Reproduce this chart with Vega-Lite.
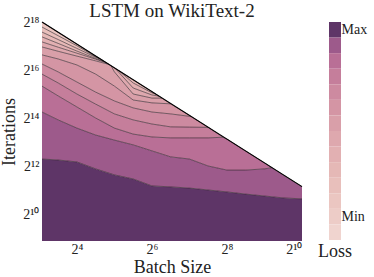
{
  "$schema": "https://vega.github.io/schema/vega-lite/v6.json",
  "background": "white",
  "padding": {"left": 0, "top": 2, "right": 2, "bottom": 0},
  "autosize": {"type": "pad"},
  "config": {
    "view": {"stroke": null},
    "font": "Liberation Serif",
    "axis": {"grid": false, "domain": false, "ticks": false, "labelFont": "Liberation Serif", "titleFont": "Liberation Serif", "labelColor": "#222", "titleColor": "#222", "titleFontWeight": "normal"}
  },
  "datasets": {
    "bands": [
      {"band": 1, "level": 1, "lx": 3.07, "lo": 8.875, "hi": 12.29},
      {"band": 1, "level": 1, "lx": 3.5, "lo": 8.875, "hi": 12.25},
      {"band": 1, "level": 1, "lx": 4, "lo": 8.875, "hi": 12.17},
      {"band": 1, "level": 1, "lx": 4.5, "lo": 8.875, "hi": 11.88},
      {"band": 1, "level": 1, "lx": 5, "lo": 8.875, "hi": 11.63},
      {"band": 1, "level": 1, "lx": 5.5, "lo": 8.875, "hi": 11.46},
      {"band": 1, "level": 1, "lx": 6, "lo": 8.875, "hi": 11.17},
      {"band": 1, "level": 1, "lx": 6.5, "lo": 8.875, "hi": 11.13},
      {"band": 1, "level": 1, "lx": 7, "lo": 8.875, "hi": 11.08},
      {"band": 1, "level": 1, "lx": 7.5, "lo": 8.875, "hi": 11.0},
      {"band": 1, "level": 1, "lx": 8, "lo": 8.875, "hi": 10.92},
      {"band": 1, "level": 1, "lx": 8.5, "lo": 8.875, "hi": 10.83},
      {"band": 1, "level": 1, "lx": 9, "lo": 8.875, "hi": 10.75},
      {"band": 1, "level": 1, "lx": 9.5, "lo": 8.875, "hi": 10.67},
      {"band": 1, "level": 1, "lx": 10, "lo": 8.875, "hi": 10.63},

      {"band": 2, "level": 2, "lx": 3.07, "lo": 12.29, "hi": 14.25},
      {"band": 2, "level": 2, "lx": 3.5, "lo": 12.25, "hi": 13.92},
      {"band": 2, "level": 2, "lx": 4, "lo": 12.17, "hi": 13.58},
      {"band": 2, "level": 2, "lx": 4.5, "lo": 11.88, "hi": 13.29},
      {"band": 2, "level": 2, "lx": 5, "lo": 11.63, "hi": 13.08},
      {"band": 2, "level": 2, "lx": 5.5, "lo": 11.46, "hi": 12.88},
      {"band": 2, "level": 2, "lx": 6, "lo": 11.17, "hi": 12.63},
      {"band": 2, "level": 2, "lx": 6.5, "lo": 11.13, "hi": 12.38},
      {"band": 2, "level": 2, "lx": 7, "lo": 11.08, "hi": 12.29},
      {"band": 2, "level": 2, "lx": 7.5, "lo": 11.0, "hi": 12.0},
      {"band": 2, "level": 2, "lx": 8, "lo": 10.92, "hi": 11.83},
      {"band": 2, "level": 2, "lx": 8.5, "lo": 10.83, "hi": 11.83},
      {"band": 2, "level": 2, "lx": 9, "lo": 10.75, "hi": 11.88},
      {"band": 2, "level": 2, "lx": 9.2, "lo": 10.72, "hi": 11.93},
      {"band": 2, "level": 2, "lx": 9.5, "lo": 10.67, "hi": 11.63},
      {"band": 2, "level": 2, "lx": 10, "lo": 10.63, "hi": 11.14},

      {"band": 3, "level": 3, "lx": 3.07, "lo": 14.25, "hi": 15.33},
      {"band": 3, "level": 3, "lx": 3.5, "lo": 13.92, "hi": 14.92},
      {"band": 3, "level": 3, "lx": 4, "lo": 13.58, "hi": 14.46},
      {"band": 3, "level": 3, "lx": 4.5, "lo": 13.29, "hi": 14.0},
      {"band": 3, "level": 3, "lx": 5, "lo": 13.08, "hi": 13.58},
      {"band": 3, "level": 3, "lx": 5.5, "lo": 12.88, "hi": 13.33},
      {"band": 3, "level": 3, "lx": 6, "lo": 12.63, "hi": 13.21},
      {"band": 3, "level": 3, "lx": 6.5, "lo": 12.38, "hi": 13.17},
      {"band": 3, "level": 3, "lx": 7, "lo": 12.29, "hi": 13.17},
      {"band": 3, "level": 3, "lx": 7.5, "lo": 12.0, "hi": 13.17},
      {"band": 3, "level": 3, "lx": 7.9, "lo": 11.86, "hi": 13.2},
      {"band": 3, "level": 3, "lx": 8, "lo": 11.83, "hi": 13.12},
      {"band": 3, "level": 3, "lx": 8.5, "lo": 11.83, "hi": 12.62},
      {"band": 3, "level": 3, "lx": 9, "lo": 11.88, "hi": 12.13},
      {"band": 3, "level": 3, "lx": 9.2, "lo": 11.93, "hi": 11.93},

      {"band": 4, "level": 4, "lx": 3.07, "lo": 15.33, "hi": 15.83},
      {"band": 4, "level": 4, "lx": 3.5, "lo": 14.92, "hi": 15.46},
      {"band": 4, "level": 4, "lx": 4, "lo": 14.46, "hi": 15.0},
      {"band": 4, "level": 4, "lx": 4.5, "lo": 14.0, "hi": 14.58},
      {"band": 4, "level": 4, "lx": 5, "lo": 13.58, "hi": 14.17},
      {"band": 4, "level": 4, "lx": 5.5, "lo": 13.33, "hi": 13.92},
      {"band": 4, "level": 4, "lx": 6, "lo": 13.21, "hi": 13.75},
      {"band": 4, "level": 4, "lx": 6.5, "lo": 13.17, "hi": 13.63},
      {"band": 4, "level": 4, "lx": 7, "lo": 13.17, "hi": 13.62},
      {"band": 4, "level": 4, "lx": 7.5, "lo": 13.17, "hi": 13.61},
      {"band": 4, "level": 4, "lx": 7.9, "lo": 13.2, "hi": 13.2},

      {"band": 5, "level": 5, "lx": 3.07, "lo": 15.83, "hi": 16.25},
      {"band": 5, "level": 5, "lx": 3.5, "lo": 15.46, "hi": 15.92},
      {"band": 5, "level": 5, "lx": 4, "lo": 15.0, "hi": 15.5},
      {"band": 5, "level": 5, "lx": 4.5, "lo": 14.58, "hi": 15.08},
      {"band": 5, "level": 5, "lx": 5, "lo": 14.17, "hi": 14.71},
      {"band": 5, "level": 5, "lx": 5.5, "lo": 13.92, "hi": 14.42},
      {"band": 5, "level": 5, "lx": 6, "lo": 13.75, "hi": 14.25},
      {"band": 5, "level": 5, "lx": 6.5, "lo": 13.63, "hi": 14.17},
      {"band": 5, "level": 5, "lx": 7.05, "lo": 13.62, "hi": 14.06},
      {"band": 5, "level": 5, "lx": 7.5, "lo": 13.61, "hi": 13.61},

      {"band": 6, "level": 6, "lx": 3.07, "lo": 16.25, "hi": 16.63},
      {"band": 6, "level": 6, "lx": 3.5, "lo": 15.92, "hi": 16.46},
      {"band": 6, "level": 6, "lx": 4, "lo": 15.5, "hi": 16.21},
      {"band": 6, "level": 6, "lx": 4.5, "lo": 15.08, "hi": 15.83},
      {"band": 6, "level": 6, "lx": 5, "lo": 14.71, "hi": 15.33},
      {"band": 6, "level": 6, "lx": 5.5, "lo": 14.42, "hi": 14.75},
      {"band": 6, "level": 6, "lx": 6, "lo": 14.25, "hi": 14.63},
      {"band": 6, "level": 6, "lx": 6.5, "lo": 14.17, "hi": 14.59},
      {"band": 6, "level": 6, "lx": 7.05, "lo": 14.06, "hi": 14.06},

      {"band": 7, "level": 7, "lx": 3.07, "lo": 16.63, "hi": 16.96},
      {"band": 7, "level": 7, "lx": 3.5, "lo": 16.46, "hi": 16.78},
      {"band": 7, "level": 7, "lx": 4, "lo": 16.21, "hi": 16.58},
      {"band": 7, "level": 7, "lx": 4.5, "lo": 15.83, "hi": 16.38},
      {"band": 7, "level": 7, "lx": 4.86, "lo": 15.47, "hi": 16.23},
      {"band": 7, "level": 7, "lx": 4.91, "lo": 15.42, "hi": 16.18},
      {"band": 7, "level": 7, "lx": 5, "lo": 15.33, "hi": 15.92},
      {"band": 7, "level": 7, "lx": 5.5, "lo": 14.75, "hi": 15.0},
      {"band": 7, "level": 7, "lx": 6, "lo": 14.63, "hi": 14.83},
      {"band": 7, "level": 7, "lx": 6.27, "lo": 14.61, "hi": 14.83},
      {"band": 7, "level": 7, "lx": 6.5, "lo": 14.59, "hi": 14.59},

      {"band": 8, "level": 8, "lx": 3.07, "lo": 16.96, "hi": 17.17},
      {"band": 8, "level": 8, "lx": 3.5, "lo": 16.78, "hi": 16.95},
      {"band": 8, "level": 8, "lx": 4, "lo": 16.58, "hi": 16.7},
      {"band": 8, "level": 8, "lx": 4.5, "lo": 16.38, "hi": 16.45},
      {"band": 8, "level": 8, "lx": 4.8, "lo": 16.26, "hi": 16.29},
      {"band": 8, "level": 8, "lx": 4.86, "lo": 16.23, "hi": 16.23},

      {"band": 9, "level": 9, "lx": 3.07, "lo": 17.17, "hi": 17.38},
      {"band": 9, "level": 9, "lx": 3.5, "lo": 16.95, "hi": 17.11},
      {"band": 9, "level": 9, "lx": 4, "lo": 16.7, "hi": 16.79},
      {"band": 9, "level": 9, "lx": 4.5, "lo": 16.45, "hi": 16.48},
      {"band": 9, "level": 9, "lx": 4.75, "lo": 16.31, "hi": 16.34},
      {"band": 9, "level": 9, "lx": 4.8, "lo": 16.29, "hi": 16.29},

      {"band": 10, "level": 10, "lx": 3.07, "lo": 17.38, "hi": 17.58},
      {"band": 10, "level": 10, "lx": 3.5, "lo": 17.11, "hi": 17.27},
      {"band": 10, "level": 10, "lx": 4, "lo": 16.79, "hi": 16.9},
      {"band": 10, "level": 10, "lx": 4.5, "lo": 16.48, "hi": 16.53},
      {"band": 10, "level": 10, "lx": 4.67, "lo": 16.38, "hi": 16.42},
      {"band": 10, "level": 10, "lx": 4.75, "lo": 16.34, "hi": 16.34},

      {"band": 11, "level": 11, "lx": 3.07, "lo": 17.58, "hi": 17.79},
      {"band": 11, "level": 11, "lx": 3.5, "lo": 17.27, "hi": 17.43},
      {"band": 11, "level": 11, "lx": 4, "lo": 16.9, "hi": 17.01},
      {"band": 11, "level": 11, "lx": 4.5, "lo": 16.53, "hi": 16.55},
      {"band": 11, "level": 11, "lx": 4.59, "lo": 16.48, "hi": 16.5},
      {"band": 11, "level": 11, "lx": 4.67, "lo": 16.42, "hi": 16.42},

      {"band": 12, "level": 12, "lx": 3.07, "lo": 17.79, "hi": 18.0},
      {"band": 12, "level": 12, "lx": 3.5, "lo": 17.43, "hi": 17.57},
      {"band": 12, "level": 12, "lx": 4, "lo": 17.01, "hi": 17.08},
      {"band": 12, "level": 12, "lx": 4.5, "lo": 16.55, "hi": 16.58},
      {"band": 12, "level": 12, "lx": 4.59, "lo": 16.5, "hi": 16.5},

      {"band": 13, "level": 8, "lx": 4.91, "lo": 16.18, "hi": 16.18},
      {"band": 13, "level": 8, "lx": 5, "lo": 15.92, "hi": 16.09},
      {"band": 13, "level": 8, "lx": 5.02, "lo": 15.88, "hi": 16.07},
      {"band": 13, "level": 8, "lx": 5.5, "lo": 15.0, "hi": 15.25},
      {"band": 13, "level": 8, "lx": 6, "lo": 14.83, "hi": 14.96},
      {"band": 13, "level": 8, "lx": 6.19, "lo": 14.83, "hi": 14.91},
      {"band": 13, "level": 8, "lx": 6.27, "lo": 14.83, "hi": 14.83},

      {"band": 14, "level": 9, "lx": 5.02, "lo": 16.07, "hi": 16.07},
      {"band": 14, "level": 9, "lx": 5.12, "lo": 15.9, "hi": 15.97},
      {"band": 14, "level": 9, "lx": 5.5, "lo": 15.25, "hi": 15.46},
      {"band": 14, "level": 9, "lx": 6, "lo": 14.96, "hi": 15.05},
      {"band": 14, "level": 9, "lx": 6.11, "lo": 14.93, "hi": 14.99},
      {"band": 14, "level": 9, "lx": 6.19, "lo": 14.91, "hi": 14.91},

      {"band": 15, "level": 10, "lx": 5.12, "lo": 15.97, "hi": 15.97},
      {"band": 15, "level": 10, "lx": 5.5, "lo": 15.46, "hi": 15.59},
      {"band": 15, "level": 10, "lx": 6, "lo": 15.05, "hi": 15.1},
      {"band": 15, "level": 10, "lx": 6.11, "lo": 14.99, "hi": 14.99}
    ],
    "diag": [
      {"lx": 3.07, "ly": 18.0},
      {"lx": 10, "ly": 11.14}
    ],
    "cb": [
      {"level": 1}, {"level": 2}, {"level": 3}, {"level": 4}, {"level": 5}, {"level": 6}, {"level": 7},
      {"level": 8}, {"level": 9}, {"level": 10}, {"level": 11}, {"level": 12}, {"level": 13}, {"level": 14}
    ]
  },
  "spacing": 27,
  "bounds": "flush",
  "resolve": {"scale": {"x": "independent", "y": "independent", "color": "independent"}},
  "hconcat": [
    {
      "width": 260,
      "height": 219,
      "title": {"text": "LSTM on WikiText-2", "font": "Liberation Serif", "fontSize": 19, "fontWeight": "normal", "baseline": "alphabetic", "offset": -21, "color": "#222"},
      "layer": [
        {
          "data": {"name": "bands"},
          "mark": {"type": "area", "interpolate": "linear", "clip": true},
          "encoding": {
            "x": {"field": "lx", "type": "quantitative", "title": "Batch Size", "scale": {"domain": [3.07, 10], "nice": false, "zero": false},
                  "axis": {"values": [4, 6, 8, 10], "titleFontSize": 18, "titlePadding": 2, "labelFontSize": 14, "labelPadding": 1,
                           "labelExpr": "datum.value == 4 ? '2⁴' : datum.value == 6 ? '2⁶' : datum.value == 8 ? '2⁸' : '2¹⁰'"}},
            "y": {"field": "lo", "type": "quantitative", "title": "Iterations", "scale": {"domain": [8.875, 18], "nice": false, "zero": false},
                  "axis": {"values": [10, 12, 14, 16, 18], "titleFontSize": 18, "titlePadding": 4, "labelFontSize": 14, "labelPadding": 3,
                           "labelExpr": "datum.value == 10 ? '2¹⁰' : datum.value == 12 ? '2¹²' : datum.value == 14 ? '2¹⁴' : datum.value == 16 ? '2¹⁶' : '2¹⁸'"}},
            "y2": {"field": "hi"},
            "color": {"field": "level", "type": "ordinal",
                      "scale": {"domain": [1, 2, 3, 4, 5, 6, 7, 8, 9, 10, 11, 12, 13, 14],
                                "range": ["#5e3567", "#9d5a8b", "#b96f96", "#c57e9b", "#cd8aa0", "#d495a4", "#d99fa9", "#dea8ae", "#e2b0b2", "#e5b8b6", "#e8bfbb", "#ebc6c1", "#edccc7", "#f0d4cf"]},
                      "legend": null},
            "detail": {"field": "band"}
          }
        },
        {
          "data": {"name": "bands"},
          "mark": {"type": "line", "color": "#33282f", "strokeWidth": 0.7, "opacity": 0.9, "clip": true},
          "encoding": {
            "x": {"field": "lx", "type": "quantitative", "title": "Batch Size"},
            "y": {"field": "hi", "type": "quantitative", "title": "Iterations"},
            "detail": {"field": "band"}
          }
        },
        {
          "data": {"name": "diag"},
          "mark": {"type": "line", "color": "#000000", "strokeWidth": 1.1},
          "encoding": {
            "x": {"field": "lx", "type": "quantitative", "title": "Batch Size"},
            "y": {"field": "ly", "type": "quantitative", "title": "Iterations"}
          }
        }
      ]
    },
    {
      "width": 12,
      "height": 218,
      "data": {"name": "cb"},
      "title": {"text": "Loss", "orient": "bottom", "font": "Liberation Serif", "fontSize": 18, "fontWeight": "normal", "offset": 3, "color": "#222"},
      "mark": "rect",
      "encoding": {
        "y": {"field": "level", "type": "ordinal",
              "scale": {"domain": [1, 2, 3, 4, 5, 6, 7, 8, 9, 10, 11, 12, 13, 14], "paddingInner": 0, "paddingOuter": 0},
              "axis": {"orient": "right", "title": null, "labelExpr": "datum.value == 1 ? 'Max' : datum.value == 13 ? 'Min' : ''", "labelFontSize": 14, "labelPadding": 0, "labelOverlap": false}},
        "color": {"field": "level", "type": "ordinal",
                  "scale": {"domain": [1, 2, 3, 4, 5, 6, 7, 8, 9, 10, 11, 12, 13, 14],
                            "range": ["#5e3567", "#9d5a8b", "#b96f96", "#c57e9b", "#cd8aa0", "#d495a4", "#d99fa9", "#dea8ae", "#e2b0b2", "#e5b8b6", "#e8bfbb", "#ebc6c1", "#edccc7", "#f0d4cf"]},
                  "legend": null}
      }
    }
  ]
}
